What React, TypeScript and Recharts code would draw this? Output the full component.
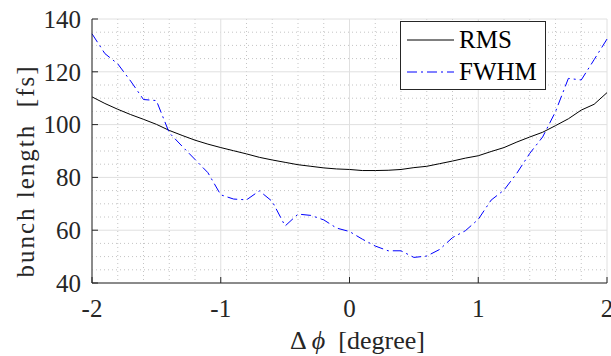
import React from 'react';
import { LineChart, Line, XAxis, YAxis, CartesianGrid, Legend, Label } from 'recharts';

// phase offset [degree]
const phase = [
  -2, -1.9, -1.8, -1.7, -1.6, -1.5, -1.4, -1.3, -1.2, -1.1, -1, -0.9, -0.8, -0.7, -0.6, -0.5, -0.4, -0.3, -0.2, -0.1,
  0, 0.1, 0.2, 0.3, 0.4, 0.5, 0.6, 0.7, 0.8, 0.9, 1, 1.1, 1.2, 1.3, 1.4, 1.5, 1.6, 1.7, 1.8, 1.9, 2,
];

// bunch length [fs]
const rms = [
  110.5, 108.0, 105.8, 103.8, 102.0, 100.1, 97.8, 95.9, 94.1, 92.6, 91.3, 90.1, 88.9, 87.6, 86.6, 85.7, 84.8, 84.2, 83.6, 83.2,
  83.0, 82.6, 82.6, 82.7, 83.0, 83.7, 84.2, 85.2, 86.2, 87.3, 88.2, 89.8, 91.3, 93.4, 95.3, 97.1, 99.6, 102.2, 105.5, 107.7, 112.1,
];
const fwhm = [
  134.4, 126.9, 123.0, 116.5, 109.5, 109.1, 96.9, 91.8, 86.8, 81.8, 73.4, 71.8, 71.5, 74.9, 70.9, 61.6, 66.1, 65.6, 63.9, 60.8,
  59.5, 56.6, 54.0, 52.2, 52.2, 49.7, 50.2, 52.7, 57.2, 59.8, 64.1, 71.4, 75.2, 81.6, 89.1, 95.3, 104.9, 117.5, 116.9, 124.6, 132.4,
];

const xTicks = [-2, -1, 0, 1, 2];
const yTicks = [40, 60, 80, 100, 120, 140];
const xMinor = [-1.8, -1.6, -1.4, -1.2, -0.8, -0.6, -0.4, -0.2, 0.2, 0.4, 0.6, 0.8, 1.2, 1.4, 1.6, 1.8];
const yMinor = [45, 50, 55, 65, 70, 75, 85, 90, 95, 105, 110, 115, 125, 130, 135];

const seriesNames = ['RMS', 'FWHM'];

const data = phase.map((p, i) => ({ phase: p, rms: rms[i], fwhm: fwhm[i] }));

const FONT = '"Liberation Serif", "Times New Roman", serif';
const INK = '#262626';
const DASHDOT = '10 4 2 4';

const LegendBox = () => (
  <div
    style={{
      position: 'relative',
      width: 146,
      height: 69,
      boxSizing: 'border-box',
      border: `1px solid ${INK}`,
      background: '#fff',
      fontFamily: FONT,
      fontSize: 25,
      color: '#000',
    }}
  >
    {seriesNames.map((name, i) => (
      <div key={name} style={{ position: 'absolute', left: 0, top: 2 + i * 32, height: 32, width: '100%' }}>
        <svg width={50} height={32} style={{ position: 'absolute', left: 6, top: 0 }}>
          <line
            x1={0}
            x2={47}
            y1={16}
            y2={16}
            stroke={i === 0 ? '#000' : '#0000ff'}
            strokeWidth={1}
            strokeDasharray={i === 0 ? undefined : DASHDOT}
          />
        </svg>
        <span style={{ position: 'absolute', left: 58, top: 0, lineHeight: '32px' }}>{name}</span>
      </div>
    ))}
  </div>
);

const YTitle = (props: any) => {
  const { viewBox } = props;
  const cx = viewBox.x + 25;
  const cy = viewBox.y + viewBox.height / 2 + 20;
  return (
    <text
      x={cx}
      y={cy}
      transform={`rotate(-90, ${cx}, ${cy})`}
      textAnchor="middle"
      dominantBaseline="central"
      fontFamily={FONT}
      fontSize={25}
      fill={INK}
      letterSpacing={2}
      style={{ whiteSpace: 'pre' }}
    >
      bunch length  [fs]
    </text>
  );
};

const XTitle = (props: any) => {
  const { viewBox } = props;
  const cx = viewBox.x + viewBox.width / 2 + 8;
  const cy = viewBox.y + 66;
  return (
    <text x={cx} y={cy} textAnchor="middle" fontFamily={FONT} fontSize={26} fill={INK} style={{ whiteSpace: 'pre' }}>
      Δ <tspan fontStyle="italic">ϕ</tspan>  [degree]
    </text>
  );
};

export default function App() {
  return (
    <div style={{ position: 'absolute', left: 0, top: 0, width: 611, height: 356, background: '#fff' }}>
      <LineChart width={611} height={356} data={data} margin={{ top: 19, right: 4, bottom: 0, left: 0 }}>
        <CartesianGrid
          verticalValues={xMinor}
          horizontalValues={yMinor}
          stroke="#c4c4c4"
          strokeDasharray="1 3"
        />
        <CartesianGrid stroke="#e0e0e0" strokeWidth={1} />
        <XAxis
          dataKey="phase"
          type="number"
          domain={[-2, 2]}
          ticks={xTicks}
          interval={0}
          tickFormatter={(v: number) => String(v)}
          height={73}
          stroke={INK}
          tickSize={-6}
          tickMargin={22}
          tick={{ fill: INK, fontFamily: FONT, fontSize: 25 }}
        >
          <Label content={<XTitle />} />
        </XAxis>
        <YAxis
          type="number"
          domain={[40, 140]}
          ticks={yTicks}
          interval={0}
          width={92}
          stroke={INK}
          tickSize={-6}
          tickMargin={17}
          tick={{ fill: INK, fontFamily: FONT, fontSize: 25 }}
        >
          <Label content={<YTitle />} />
        </YAxis>
        <Legend
          layout="vertical"
          align="center"
          verticalAlign="middle"
          content={<LegendBox />}
          wrapperStyle={{ left: 400, top: 21, width: 146, height: 69 }}
        />
        <Line
          type="linear"
          dataKey="rms"
          name="RMS"
          stroke="#000"
          strokeWidth={1}
          dot={false}
          isAnimationActive={false}
        />
        <Line
          type="linear"
          dataKey="fwhm"
          name="FWHM"
          stroke="#0000ff"
          strokeWidth={1}
          strokeDasharray={DASHDOT}
          dot={false}
          isAnimationActive={false}
        />
      </LineChart>
    </div>
  );
}
